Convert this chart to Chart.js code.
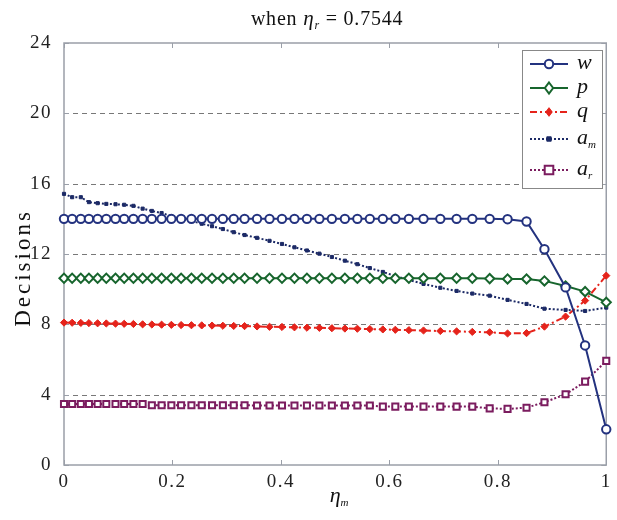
<!DOCTYPE html>
<html><head><meta charset="utf-8">
<script src="https://cdn.jsdelivr.net/npm/chart.js@4.4.1/dist/chart.umd.min.js"></script>
<style>html,body{margin:0;padding:0;background:#fff;}#wrap{position:relative;width:617px;height:520px;}</style>
</head><body><div id="wrap"><canvas id="c" width="617" height="520"></canvas></div>
<script>
// x positions (eta_m)
const etaM = [0, 0.015, 0.031, 0.046, 0.062, 0.078, 0.095, 0.111, 0.128, 0.145, 0.162, 0.180, 0.198, 0.216, 0.235, 0.254, 0.273, 0.293, 0.313, 0.333, 0.356, 0.379, 0.402, 0.425, 0.448, 0.471, 0.494, 0.518, 0.541, 0.564, 0.588, 0.611, 0.636, 0.663, 0.694, 0.724, 0.753, 0.785, 0.818, 0.853, 0.886, 0.925, 0.961, 1.0];
const wVals = [14.0, 14.0, 14.0, 14.0, 14.0, 14.0, 14.0, 14.0, 14.0, 14.0, 14.0, 14.0, 14.0, 14.0, 14.0, 14.0, 14.0, 14.0, 14.0, 14.0, 14.0, 14.0, 14.0, 14.0, 14.0, 14.0, 14.0, 14.0, 14.0, 14.0, 14.0, 14.0, 14.0, 14.0, 14.0, 14.0, 14.0, 14.0, 13.98, 13.85, 12.27, 10.1, 6.8, 2.03];
const pVals = [10.62, 10.62, 10.62, 10.62, 10.62, 10.62, 10.62, 10.62, 10.62, 10.62, 10.62, 10.62, 10.62, 10.62, 10.62, 10.62, 10.62, 10.62, 10.62, 10.62, 10.62, 10.62, 10.62, 10.62, 10.62, 10.62, 10.62, 10.62, 10.62, 10.62, 10.62, 10.62, 10.62, 10.62, 10.62, 10.62, 10.62, 10.6, 10.58, 10.58, 10.47, 10.18, 9.86, 9.25];
const qVals = [8.1, 8.09, 8.08, 8.07, 8.06, 8.05, 8.04, 8.03, 8.02, 8.0, 7.99, 7.98, 7.97, 7.96, 7.95, 7.94, 7.93, 7.92, 7.91, 7.9, 7.88, 7.86, 7.85, 7.83, 7.81, 7.8, 7.78, 7.76, 7.75, 7.73, 7.71, 7.69, 7.67, 7.65, 7.62, 7.6, 7.57, 7.55, 7.48, 7.5, 7.87, 8.44, 9.35, 10.77];
const amVals = [15.42, 15.23, 15.23, 14.95, 14.89, 14.85, 14.83, 14.8, 14.74, 14.58, 14.45, 14.33, 14.15, 14.0, 13.88, 13.72, 13.58, 13.42, 13.24, 13.08, 12.92, 12.75, 12.57, 12.38, 12.2, 12.02, 11.83, 11.62, 11.42, 11.2, 10.98, 10.75, 10.52, 10.3, 10.08, 9.9, 9.75, 9.63, 9.39, 9.16, 8.89, 8.82, 8.76, 8.95];
const arVals = [3.47, 3.47, 3.47, 3.47, 3.47, 3.47, 3.47, 3.47, 3.47, 3.47, 3.4, 3.4, 3.4, 3.4, 3.4, 3.4, 3.4, 3.4, 3.4, 3.4, 3.38, 3.38, 3.38, 3.38, 3.38, 3.38, 3.38, 3.38, 3.38, 3.38, 3.32, 3.32, 3.32, 3.32, 3.32, 3.32, 3.32, 3.22, 3.19, 3.26, 3.57, 4.02, 4.74, 5.92];
const xTickVals = [0, 0.2, 0.4, 0.6, 0.8, 1];
const yTickVals = [0, 4, 8, 12, 16, 20, 24];
const gridVals = [4, 8, 12, 16, 20];

const SERIF = '"Liberation Serif", "DejaVu Serif", serif';
const COL = {w:'#23327f', p:'#17652d', q:'#e5231b', am:'#1c2a66', ar:'#7b1c5f'};

function pts(ys){ return etaM.map((x,i)=>({x:x, y:ys[i]})); }

const series = [
  {key:'w', label:'w', data:wVals, color:COL.w, style:'circle', r:4.2, fill:'#fff', dash:[], bw:2},
  {key:'p', label:'p', data:pVals, color:COL.p, style:'rectRot', r:4.6, fill:'#fff', dash:[], bw:2},
  {key:'q', label:'q', data:qVals, color:COL.q, style:'rectRot', r:3.6, fill:COL.q, dash:[7,3,2,3], bw:1},
  {key:'am', label:'a', sub:'m', data:amVals, color:COL.am, style:'rect', r:2.2, fill:COL.am, dash:[2,2], bw:1},
  {key:'ar', label:'a', sub:'r', data:arVals, color:COL.ar, style:'rect', r:4.3, fill:'#fff', dash:[2,2], bw:2}
];

function drawMarker(ctx, s, x, y){
  ctx.save();
  ctx.setLineDash([]);
  ctx.lineWidth = s.bw;
  ctx.strokeStyle = s.color;
  ctx.fillStyle = s.fill;
  ctx.beginPath();
  if (s.style==='circle'){ ctx.arc(x,y,s.r,0,Math.PI*2); }
  else if (s.style==='rectRot'){ ctx.moveTo(x,y-s.r*1.2); ctx.lineTo(x+s.r*0.9,y); ctx.lineTo(x,y+s.r*1.2); ctx.lineTo(x-s.r*0.9,y); ctx.closePath(); }
  else { ctx.rect(x-s.r,y-s.r,2*s.r,2*s.r); }
  ctx.fill(); ctx.stroke();
  ctx.restore();
}

function drawRich(ctx, parts, x, y, align){
  let total = 0;
  parts.forEach(p=>{ ctx.font = p.font; p.w = ctx.measureText(p.t).width; total += p.w; });
  let cx = align==='center' ? x - total/2 : x;
  parts.forEach(p=>{ ctx.font = p.font; ctx.fillText(p.t, cx, y + (p.dy||0)); cx += p.w; });
}

function setLS(ctx, v){ try { ctx.letterSpacing = v; } catch(e){} }

const decor = {
  id:'decor',
  beforeDraw(chart){ setLS(chart.ctx, '1.5px'); },
  beforeDatasetsDraw(chart){
    const {ctx, chartArea:a, scales:{x, y}} = chart;
    setLS(ctx, '0px');
    ctx.save();
    // dashed grid lines
    ctx.strokeStyle = '#555';
    ctx.lineWidth = 0.8;
    ctx.setLineDash([5,4]);
    gridVals.forEach(v=>{
      const py = Math.round(y.getPixelForValue(v))+0.5;
      ctx.beginPath(); ctx.moveTo(a.left, py); ctx.lineTo(a.right, py); ctx.stroke();
    });
    ctx.setLineDash([]);
    // box
    ctx.strokeStyle = '#9a9fa8';
    ctx.lineWidth = 1.5;
    ctx.strokeRect(a.left, a.top, a.right-a.left, a.bottom-a.top);
    // inward ticks
    ctx.lineWidth = 1;
    xTickVals.forEach(v=>{
      const px = Math.round(x.getPixelForValue(v))+0.5;
      ctx.beginPath(); ctx.moveTo(px, a.bottom); ctx.lineTo(px, a.bottom-5);
      ctx.moveTo(px, a.top); ctx.lineTo(px, a.top+5); ctx.stroke();
    });
    yTickVals.forEach(v=>{
      const py = Math.round(y.getPixelForValue(v))+0.5;
      ctx.beginPath(); ctx.moveTo(a.left, py); ctx.lineTo(a.left+5, py);
      ctx.moveTo(a.right, py); ctx.lineTo(a.right-5, py); ctx.stroke();
    });
    ctx.restore();
  },
  afterDraw(chart){
    const {ctx, chartArea:a} = chart;
    ctx.save();
    ctx.fillStyle = '#111';
    ctx.textBaseline = 'alphabetic';
    // title
    setLS(ctx, '0.8px');
    drawRich(ctx, [
      {t:'when ', font:'20px '+SERIF},
      {t:'\u03b7', font:'italic 21px '+SERIF},
      {t:'r', font:'italic 12px '+SERIF, dy:4},
      {t:' = 0.7544', font:'20px '+SERIF}
    ], (a.left+a.right)/2 - 8, 25, 'center');
    setLS(ctx, '0px');
    // x axis label
    drawRich(ctx, [
      {t:'\u03b7', font:'italic 22px '+SERIF},
      {t:'m', font:'italic 11px '+SERIF, dy:4}
    ], (a.left+a.right)/2 + 4, 502, 'center');
    // y axis label
    ctx.save();
    ctx.translate(30, (a.top+a.bottom)/2 + 14);
    ctx.rotate(-Math.PI/2);
    ctx.font = '23px '+SERIF;
    ctx.textAlign = 'center';
    setLS(ctx, '3px');
    ctx.fillText('Decisions', 0, 0);
    setLS(ctx, '0px');
    ctx.restore();
    // legend
    const bx = 522, by = 50, bw = 80, bh = 138;
    ctx.fillStyle = '#fff';
    ctx.fillRect(bx, by, bw, bh);
    ctx.strokeStyle = '#888';
    ctx.lineWidth = 1;
    ctx.strokeRect(bx+0.5, by+0.5, bw, bh);
    const rows = [64, 88, 112, 139, 170];
    series.forEach((s, i)=>{
      const ry = rows[i];
      ctx.save();
      ctx.strokeStyle = s.color; ctx.lineWidth = 2; ctx.setLineDash(s.dash);
      ctx.beginPath(); ctx.moveTo(530, ry); ctx.lineTo(568, ry); ctx.stroke();
      ctx.restore();
      drawMarker(ctx, s, 549, ry);
      ctx.fillStyle = '#111';
      const parts = [{t:s.label, font:'italic 22px '+SERIF}];
      if (s.sub) parts.push({t:s.sub, font:'italic 11px '+SERIF, dy:4});
      drawRich(ctx, parts, 577, ry+5, 'left');
    });
    ctx.restore();
  }
};

const datasets = series.map(s=>({
  label: s.key,
  data: pts(s.data),
  borderColor: s.color,
  backgroundColor: s.fill,
  borderWidth: 2,
  borderDash: s.dash,
  pointStyle: s.style,
  pointRadius: s.r,
  pointBorderWidth: s.bw,
  pointBackgroundColor: s.fill,
  pointBorderColor: s.color,
  tension: 0,
  fill: false,
  clip: false
}));

new Chart(document.getElementById('c'), {
  type: 'line',
  data: { datasets },
  options: {
    responsive: false,
    animation: false,
    devicePixelRatio: 1,
    layout: { padding: { left: 0, top: 43, right: 10, bottom: 0 } },
    plugins: { legend: {display:false}, title: {display:false}, tooltip: {enabled:false} },
    scales: {
      x: {
        type: 'linear', min: 0, max: 1,
        afterFit(s){ s.height = 55; },
        afterBuildTicks(s){ s.ticks = xTickVals.map(v=>({value:v})); },
        ticks: { font: {family: SERIF, size: 19}, color: '#222', padding: 6,
                 callback: v => String(Math.round(v*10)/10) },
        grid: { display: false, drawTicks: false },
        border: { display: false }
      },
      y: {
        min: 0, max: 24,
        afterFit(s){ s.width = 64; },
        afterBuildTicks(s){ s.ticks = yTickVals.map(v=>({value:v})); },
        ticks: { font: {family: SERIF, size: 19}, color: '#222', padding: 12 },
        grid: { display: false, drawTicks: false },
        border: { display: false }
      }
    }
  },
  plugins: [decor]
});
</script></body></html>
